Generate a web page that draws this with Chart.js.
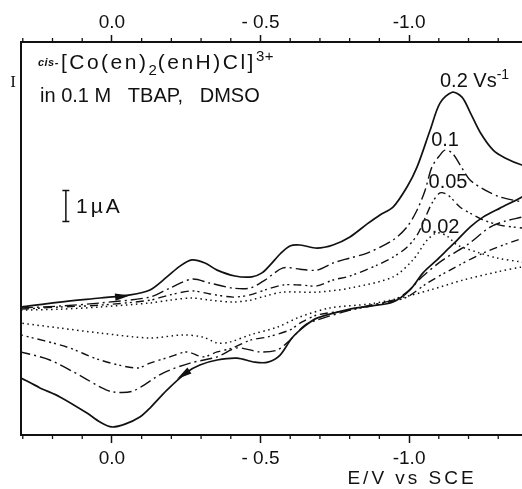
<!DOCTYPE html>
<html><head><meta charset="utf-8">
<script src="https://cdn.jsdelivr.net/npm/chart.js@4.4.0/dist/chart.umd.min.js"></script>
<style>html,body{margin:0;padding:0;background:#fff;}canvas{display:block;}</style>
</head><body>
<canvas id="c" width="522" height="489"></canvas>
<script>
// ---- data (E in V vs SCE, I in µA, arbitrary zero) ----
const scanRates = ["0.2", "0.1", "0.05", "0.02"];
const majorTicks = [0, -0.5, -1.0];
const tickLabels = ["0.0", "- 0.5", "-1.0"];
const minorTicks = [0.3, 0.2, 0.1, -0.1, -0.2, -0.3, -0.4, -0.6, -0.7, -0.8, -0.9, -1.1, -1.2, -1.3];
const eRange = [-1.380, 0.306];
const iRange = [0, 12.68];

// 0.2 V/s (solid): forward scan then reverse scan
const e02 = [0.306,0.175,0.040,-0.061,-0.128,-0.185,-0.229,-0.269,-0.313,-0.354,
  -0.414,-0.471,-0.505,-0.532,-0.566,-0.599,-0.633,-0.690,-0.744,-0.801,
  -0.859,-0.902,-0.946,-0.993,-1.027,-1.071,-1.104,-1.145,-1.178,-1.205,
  -1.239,-1.283,-1.323,-1.380,-1.441,
  -1.441,-1.380,-1.306,-1.249,-1.205,-1.162,-1.128,-1.094,-1.047,-1.003,
  -0.946,-0.869,-0.801,-0.690,-0.650,-0.606,-0.566,-0.525,-0.481,-0.421,
  -0.354,-0.296,-0.253,-0.185,-0.128,-0.094,-0.044,0.000,0.040,0.084,
  0.175,0.242,0.306];
const i02 = [4.13,4.29,4.42,4.52,4.68,5.10,5.45,5.65,5.55,5.32,
  5.13,5.10,5.23,5.48,5.84,6.10,6.13,6.03,6.13,6.39,
  6.81,7.10,7.35,8.00,8.65,9.84,10.71,11.06,10.90,10.42,
  9.77,9.19,8.94,8.71,8.55,
  8.06,7.68,7.32,7.03,6.71,6.29,5.97,5.65,5.23,4.68,
  4.29,4.16,4.06,3.77,3.52,3.13,2.58,2.35,2.35,2.48,
  2.42,2.26,2.03,1.45,0.87,0.58,0.35,0.26,0.42,0.71,
  1.23,1.52,1.84];

// 0.1 V/s (dash-dot)
const e01 = [0.306,0.175,0.040,-0.128,-0.195,-0.269,-0.330,-0.407,-0.465,-0.515,
  -0.576,-0.633,-0.690,-0.744,-0.801,-0.859,-0.946,-0.993,-1.027,-1.054,
  -1.077,-1.104,-1.121,-1.145,-1.172,-1.205,-1.256,-1.306,-1.380,-1.441,
  -1.441,-1.380,-1.323,-1.273,-1.195,-1.114,-1.047,-0.993,-0.946,-0.869,
  -0.801,-0.690,-0.650,-0.599,-0.556,-0.498,-0.421,-0.354,-0.263,-0.172,
  -0.071,-0.003,0.040,0.098,0.209,0.306];
const i01 = [4.10,4.16,4.26,4.45,4.74,5.03,4.90,4.74,4.74,5.00,
  5.39,5.35,5.32,5.55,5.71,5.87,6.29,6.71,7.26,7.90,
  8.65,9.03,9.19,9.10,8.71,8.23,7.90,7.68,7.52,7.39,
  7.19,7.03,6.90,6.71,6.13,5.65,5.13,4.61,4.35,4.19,
  4.03,3.71,3.55,3.06,2.74,2.68,2.81,2.52,2.32,2.00,
  1.42,1.39,1.55,1.87,2.42,2.68];

// 0.05 V/s (dash-dot-dot)
const e005 = [0.306,0.175,0.040,-0.128,-0.195,-0.269,-0.330,-0.407,-0.465,-0.515,
  -0.576,-0.633,-0.690,-0.744,-0.801,-0.892,-0.946,-0.993,-1.027,-1.054,
  -1.077,-1.104,-1.131,-1.172,-1.205,-1.249,-1.306,-1.350,-1.380,-1.441,
  -1.441,-1.364,-1.249,-1.138,-1.061,-0.993,-0.946,-0.869,-0.801,-0.690,
  -0.633,-0.599,-0.522,-0.465,-0.407,-0.354,-0.306,-0.253,-0.195,-0.128,
  -0.084,0.040,0.152,0.306];
const i005 = [4.06,4.13,4.19,4.35,4.52,4.65,4.55,4.45,4.52,4.68,
  4.84,4.84,4.81,5.00,5.13,5.48,5.74,6.06,6.45,7.00,
  7.48,7.81,7.74,7.35,7.16,6.94,6.77,6.71,6.68,6.61,
  6.52,6.29,5.87,5.32,4.90,4.45,4.32,4.16,4.03,3.87,
  3.61,3.39,3.16,3.06,2.81,2.68,2.52,2.68,2.52,2.32,
  2.16,2.42,2.84,3.23];

// 0.02 V/s (dotted)
const e002 = [0.306,0.175,0.040,-0.128,-0.195,-0.269,-0.330,-0.407,-0.465,-0.515,
  -0.576,-0.690,-0.801,-0.946,-1.013,-1.061,-1.094,-1.128,-1.162,-1.239,
  -1.296,-1.380,-1.441,
  -1.441,-1.380,-1.296,-1.182,-1.071,-0.970,-0.869,-0.734,-0.633,-0.556,
  -0.465,-0.397,-0.354,-0.306,-0.239,-0.128,0.040,0.175,0.306];
const i002 = [4.03,4.06,4.13,4.26,4.35,4.42,4.35,4.29,4.35,4.48,
  4.61,4.61,4.74,5.10,5.65,6.29,6.52,6.42,6.13,5.87,
  5.71,5.58,5.52,
  5.45,5.42,5.26,5.00,4.68,4.42,4.23,4.10,3.81,3.48,
  3.23,3.00,2.97,3.16,3.23,3.13,3.29,3.45,3.61];

// scan-direction arrows on the 0.2 V/s curve [E, I] tail -> tip
const arrowFwd = { from: [-0.003, 4.44], to: [-0.061, 4.50] };
const arrowRev = { from: [-0.273, 2.16], to: [-0.219, 1.81] };
const scaleBar = { e: 0.155, i0: 6.89, i1: 7.89 }; // 1 µA

// ---- drawing ----
const INK = '#111';
const FAM = '"Liberation Sans", Arial, sans-serif';
const f = (s, extra) => (extra ? extra + ' ' : '') + s + 'px ' + FAM;

function pts(es, is) { return es.map((e, k) => ({ x: e, y: is[k] })); }

function P(chart, e, i) { return [chart.scales.x.getPixelForValue(e), chart.scales.y.getPixelForValue(i)]; }

function drawRich(ctx, x, y, segs, align) {
  const setup = s => { ctx.font = s.font; ctx.letterSpacing = (s.ls || 0) + 'px'; };
  let total = 0;
  segs.forEach(s => { setup(s); total += ctx.measureText(s.t).width + (s.gap || 0); });
  let cx = align === 'center' ? x - total / 2 : x;
  segs.forEach(s => { setup(s); ctx.fillText(s.t, cx, y + (s.dy || 0)); cx += ctx.measureText(s.t).width + (s.gap || 0); });
  ctx.letterSpacing = '0px';
}

function arrow(ctx, chart, a) {
  const [x0, y0] = P(chart, a.from[0], a.from[1]);
  const [x1, y1] = P(chart, a.to[0], a.to[1]);
  const ang = Math.atan2(y1 - y0, x1 - x0);
  const L = 15, W = 3.6;
  ctx.save();
  ctx.translate(x1, y1); ctx.rotate(ang);
  ctx.beginPath(); ctx.moveTo(0, 0); ctx.lineTo(-L, -W); ctx.lineTo(-L, W); ctx.closePath();
  ctx.fillStyle = INK; ctx.fill();
  ctx.restore();
}

const decor = {
  id: 'decor',
  afterDraw(chart) {
    const ctx = chart.ctx, ca = chart.chartArea, sx = chart.scales.x, sx2 = chart.scales.x2;
    ctx.save();
    ctx.strokeStyle = INK; ctx.fillStyle = INK;
    // left frame
    ctx.lineWidth = 2;
    ctx.beginPath(); ctx.moveTo(ca.left, ca.top - 1); ctx.lineTo(ca.left, ca.bottom + 1); ctx.stroke();
    // minor ticks
    ctx.lineWidth = 1.3;
    minorTicks.forEach(v => {
      const xb = sx.getPixelForValue(v), xt = sx2.getPixelForValue(v);
      ctx.beginPath(); ctx.moveTo(xb, ca.bottom); ctx.lineTo(xb, ca.bottom + 4); ctx.stroke();
      ctx.beginPath(); ctx.moveTo(xt, ca.top); ctx.lineTo(xt, ca.top - 4); ctx.stroke();
    });
    // arrows
    arrow(ctx, chart, arrowFwd);
    arrow(ctx, chart, arrowRev);
    // scale bar
    const [bx, by0] = P(chart, scaleBar.e, scaleBar.i0);
    const by1 = chart.scales.y.getPixelForValue(scaleBar.i1);
    ctx.lineWidth = 1.5;
    ctx.beginPath();
    ctx.moveTo(bx, by0); ctx.lineTo(bx, by1);
    ctx.moveTo(bx - 3.5, by0); ctx.lineTo(bx + 3.5, by0);
    ctx.moveTo(bx - 3.5, by1); ctx.lineTo(bx + 3.5, by1);
    ctx.stroke();
    // texts
    ctx.textAlign = 'left'; ctx.textBaseline = 'alphabetic';
    let p;
    p = P(chart, 0.121, 7.16);
    drawRich(ctx, p[0], p[1], [{ t: '1µA', font: f(21), ls: 3 }]);
    p = P(chart, 0.249, 11.81);
    drawRich(ctx, p[0], p[1], [
      { t: 'cis-', font: f(11, 'italic bold'), dy: -3, gap: 2, ls: 0.5 },
      { t: '[Co(en)', font: f(21), ls: 2.5 },
      { t: '2', font: f(15), dy: 6, ls: 1 },
      { t: '(enH)Cl]', font: f(21), ls: 2.5 },
      { t: '3+', font: f(15), dy: -8, ls: 0.5 }]);
    p = P(chart, 0.242, 10.74);
    drawRich(ctx, p[0], p[1], [{ t: 'in 0.1 M   TBAP,   DMSO', font: f(20), ls: 0 }]);
    p = P(chart, -1.104, 11.23);
    drawRich(ctx, p[0], p[1], [{ t: '0.2 Vs', font: f(20) }, { t: '-1', font: f(14), dy: -8 }]);
    p = P(chart, -1.121, 9.32);
    drawRich(ctx, p[0], p[1], [{ t: scanRates[1], font: f(20) }], 'center');
    p = P(chart, -1.131, 7.97);
    drawRich(ctx, p[0], p[1], [{ t: scanRates[2], font: f(20) }], 'center');
    p = P(chart, -1.104, 6.52);
    drawRich(ctx, p[0], p[1], [{ t: scanRates[3], font: f(20) }], 'center');
    // current symbol left of the frame
    p = P(chart, 0.333, 11.23);
    ctx.font = '17px "Liberation Serif", serif';
    ctx.textAlign = 'center';
    ctx.fillText('I', p[0], p[1]);
    // x axis title
    p = P(chart, -1.010, -1.58);
    ctx.font = f(19);
    ctx.letterSpacing = '3px';
    ctx.fillText('E/V vs SCE', p[0], p[1]);
    ctx.restore();
  }
};

function xAxis(pos, h, tl, pad) {
  return {
    type: 'linear', position: pos, reverse: true, min: eRange[0], max: eRange[1],
    afterBuildTicks: s => { s.ticks = majorTicks.map(v => ({ value: v })); },
    afterFit: s => { s.height = h; },
    ticks: { callback: (v, k) => tickLabels[k], font: { family: FAM, size: 19 }, color: INK, padding: pad, maxRotation: 0, autoSkip: false },
    grid: { drawOnChartArea: false, drawTicks: true, tickLength: tl, tickWidth: 1.5, tickColor: INK },
    border: { display: true, color: INK, width: 2 }
  };
}

const styles = [
  { w: 1.7, dash: [] },
  { w: 1.4, dash: [12, 4, 2, 4] },
  { w: 1.4, dash: [8, 4, 2, 3, 2, 4] },
  { w: 1.5, dash: [1.5, 3.5] }
];
const series = [[e02, i02], [e01, i01], [e005, i005], [e002, i002]];

new Chart(document.getElementById('c'), {
  type: 'scatter',
  data: {
    datasets: series.map((s, k) => ({
      label: scanRates[k] + ' V/s',
      data: pts(s[0], s[1]),
      showLine: true, fill: false, tension: 0.3,
      borderColor: INK, borderWidth: styles[k].w, borderDash: styles[k].dash,
      pointRadius: 0, pointHoverRadius: 0
    }))
  },
  options: {
    responsive: false, animation: false, events: [],
    layout: { padding: { left: 21, right: 0, top: 0, bottom: 0 } },
    plugins: { legend: { display: false }, tooltip: { enabled: false } },
    scales: {
      x: xAxis('bottom', 54, 8, 4),
      x2: xAxis('top', 42, 7, 1),
      y: { display: false, min: iRange[0], max: iRange[1] }
    }
  },
  plugins: [decor]
});
</script>
</body></html>
